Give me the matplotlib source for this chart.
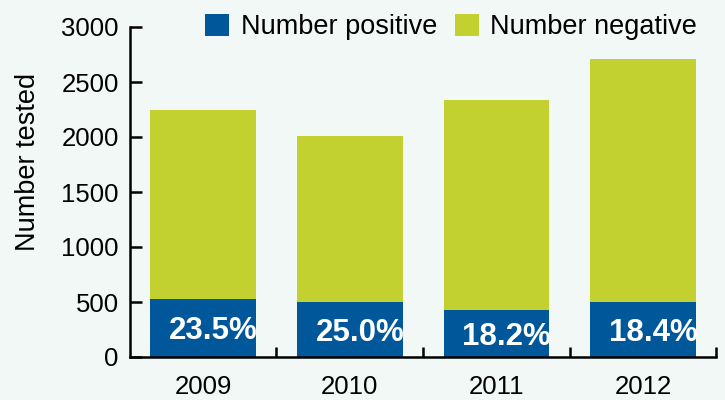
import numpy as np
import matplotlib.pyplot as plt
from matplotlib.ticker import FixedLocator

years = ['2009', '2010', '2011', '2012']
positive = [529, 501, 425, 499]
negative = [1721, 1504, 1910, 2211]

blue = '#00579a'
green = '#c2d130'
bg = '#f2f8f5'

plt.rcParams['font.family'] = ['Liberation Sans', 'DejaVu Sans']

fig = plt.figure(figsize=(7.25, 4), dpi=100, facecolor=bg)
ax = fig.add_axes([0.179, 0.1075, 0.809, 0.825], facecolor=bg)

x = np.arange(len(years))
pos = np.array(positive)
neg = np.array(negative)
ax.bar(x, pos, width=0.72, color=blue, label='Number positive')
ax.bar(x, neg, width=0.72, bottom=pos, color=green, label='Number negative')

# share of positive tests written inside the blue segment
for xi, p, n in zip(x, pos, neg):
    pct = 100 * p / (p + n)
    ax.text(xi + 0.07, p / 2 - 30, '%.1f%%' % pct, ha='center', va='center',
            color='white', fontsize=22.5, fontweight='bold')

ax.set_xlim(-0.5, 3.5)
ax.set_ylim(0, 3000)
ax.set_yticks(np.arange(0, 3001, 500))
ax.set_xticks(x)
ax.set_xticklabels(years)
ax.xaxis.set_minor_locator(FixedLocator([0.5, 1.5, 2.5, 3.5]))

for s in ['top', 'right']:
    ax.spines[s].set_visible(False)
for s in ['left', 'bottom']:
    ax.spines[s].set_linewidth(1.8)

ax.tick_params(axis='y', direction='in', length=8.5, width=1.8, pad=8,
               labelsize=18.5)
ax.tick_params(axis='x', which='major', length=0, pad=13, labelsize=18.5)
ax.tick_params(axis='x', which='minor', direction='in', length=7, width=1.8)
ax.set_ylabel('Number tested', fontsize=19.5)
ax.yaxis.set_label_coords(-0.152, 0.59)

fig.legend(loc='center left', bbox_to_anchor=(205 / 725, 1 - 27 / 400),
           ncol=2, frameon=False, fontsize=19.5, borderpad=0,
           borderaxespad=0, handlelength=0.9, handleheight=0.9,
           handletextpad=0.42, columnspacing=0.65)

plt.savefig('out.png', dpi=100, facecolor=bg)
